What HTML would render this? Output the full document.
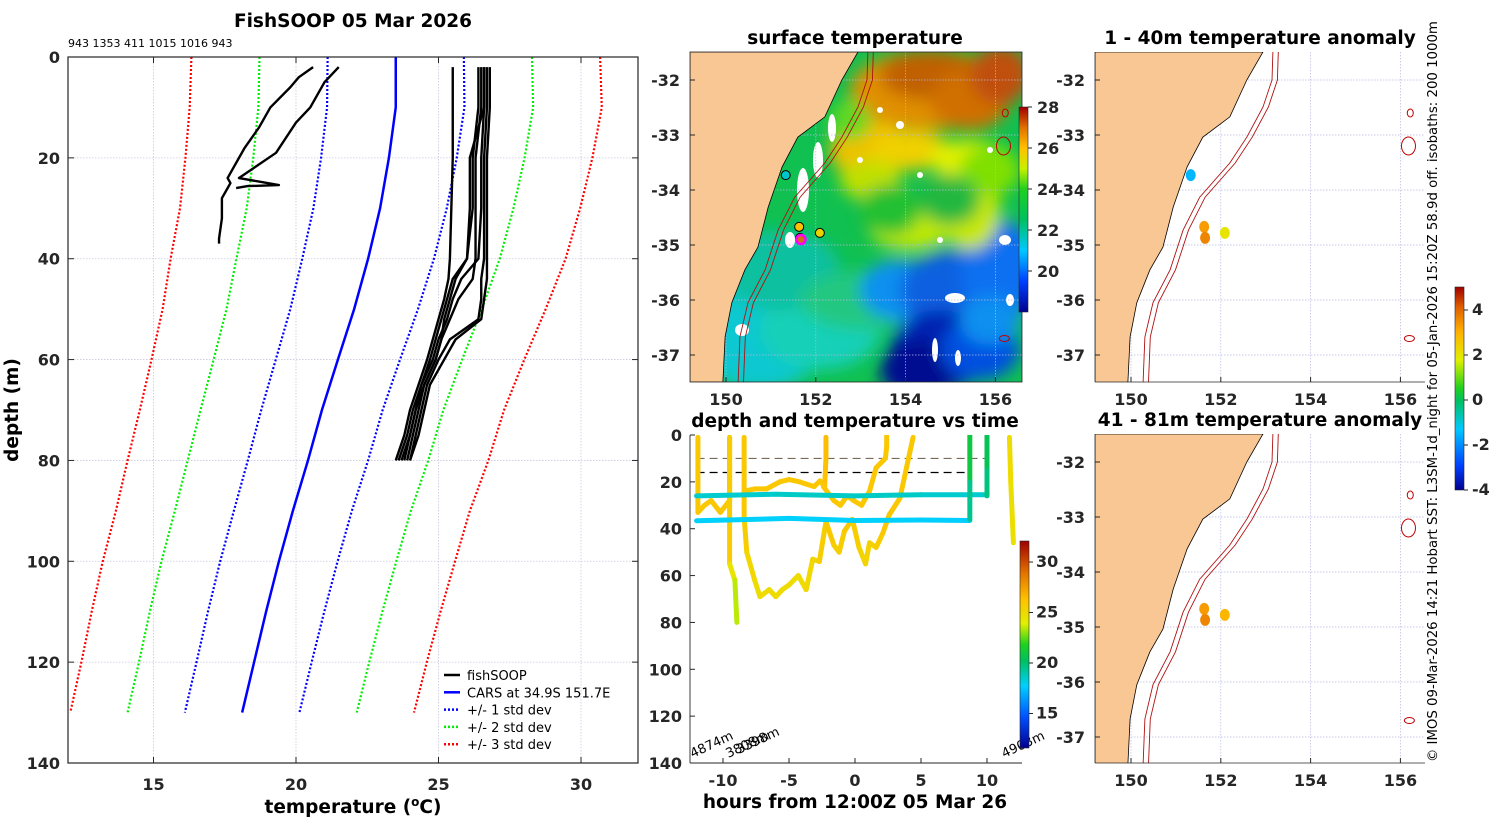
<!DOCTYPE html>
<html><head><meta charset="utf-8">
<style>
html,body{margin:0;padding:0;background:#fff;}
svg{display:block;font-family:"DejaVu Sans","Liberation Sans",sans-serif;}
.tk{font-size:16px;font-weight:bold;fill:#262626;}
.ttl{font-size:18.5px;font-weight:bold;fill:#000;}
.lg{font-size:13px;fill:#000;}
</style></head>
<body>
<svg id="fig" width="1500" height="820" viewBox="0 0 1500 820" xmlns="http://www.w3.org/2000/svg">
<defs>
<filter id="blur8" x="-20%" y="-20%" width="140%" height="140%"><feGaussianBlur stdDeviation="8"/></filter>
<clipPath id="clipSst"><rect x="690" y="52" width="332" height="330"/></clipPath>
<clipPath id="clipA1"><rect x="1095" y="52" width="330" height="330"/></clipPath>
<clipPath id="clipA2"><rect x="1095" y="434" width="330" height="329"/></clipPath>
<clipPath id="clipDt"><rect x="690" y="435" width="332" height="328"/></clipPath>
<linearGradient id="sstV" x1="0" y1="1" x2="0" y2="0">
<stop offset="0" stop-color="#00008f"/><stop offset="0.15" stop-color="#0040ff"/><stop offset="0.3" stop-color="#00c8ff"/><stop offset="0.45" stop-color="#00c060"/><stop offset="0.6" stop-color="#20d020"/><stop offset="0.7" stop-color="#c8f000"/><stop offset="0.8" stop-color="#ffc000"/><stop offset="0.9" stop-color="#e07000"/><stop offset="1" stop-color="#a00000"/>
</linearGradient>
<linearGradient id="dtV" x1="0" y1="1" x2="0" y2="0">
<stop offset="0" stop-color="#00008f"/><stop offset="0.15" stop-color="#0050ff"/><stop offset="0.3" stop-color="#00d0ff"/><stop offset="0.42" stop-color="#00c060"/><stop offset="0.5" stop-color="#20d020"/><stop offset="0.6" stop-color="#e0f000"/><stop offset="0.72" stop-color="#ffc000"/><stop offset="0.85" stop-color="#e07000"/><stop offset="1" stop-color="#a00000"/>
</linearGradient>
<linearGradient id="anV" x1="0" y1="1" x2="0" y2="0">
<stop offset="0" stop-color="#00008f"/><stop offset="0.12" stop-color="#0040ff"/><stop offset="0.3" stop-color="#00c8ff"/><stop offset="0.44" stop-color="#00c060"/><stop offset="0.5" stop-color="#20d020"/><stop offset="0.64" stop-color="#e0f000"/><stop offset="0.78" stop-color="#ffb000"/><stop offset="0.9" stop-color="#e06000"/><stop offset="1" stop-color="#a00000"/>
</linearGradient>
</defs>
<g id="root"></g>
</svg>
<script>
// ---------- Profile panel data ----------
const carsDepths = [0,10,20,30,40,50,60,70,80,90,100,110,120,130];
const carsMean   = [23.5,23.5,23.26,22.95,22.53,22.04,21.47,20.91,20.42,19.89,19.40,18.95,18.53,18.11];
const carsStd    = [2.39,2.41,2.38,2.34,2.31,2.24,2.18,2.13,2.11,2.07,2.06,2.04,2.02,2.01];
const stdMultiples = [1,2,3];
const xTicks = [15,20,25,30];
const yTicks = [0,20,40,60,80,100,120,140];
const coldDepthsA = [2,4,6,10,14,18,22,24,25,26,28,32,36,37];
const coldTempsA  = [20.6,20.1,19.8,19.1,18.7,18.2,17.8,17.6,17.7,17.6,17.4,17.4,17.3,17.3];
const coldDepthsB = [2,5,10,13,19,24,25,25.4,25.6,26];
const coldTempsB  = [21.5,21.0,20.5,20.0,19.3,18.0,19.0,19.4,18.3,17.9];
const warmDepths = [2,10,20,30,40,44,48,52,56,60,65,70,75,80];
const warmTemps1 = [25.5,25.5,25.5,25.45,25.4,25.35,25.2,25.0,24.8,24.6,24.3,24.0,23.8,23.5];
const warmTemps2 = [26.6,26.6,26.5,26.5,26.4,25.8,25.5,25.3,25.0,24.8,24.4,24.2,24.0,23.7];
const warmTemps3 = [26.5,26.5,26.3,26.3,26.3,26.2,25.7,25.4,25.1,24.9,24.5,24.3,24.1,23.9];
const warmTemps4 = [26.7,26.7,26.6,26.6,26.6,26.5,26.5,26.4,25.4,25.0,24.6,24.4,24.2,24.0];
const warmTemps5 = [26.6,26.6,26.1,26.1,26.0,25.6,25.4,25.2,25.1,24.9,24.5,24.2,24.0,23.8];
const warmTemps6 = [26.8,26.8,26.7,26.7,26.7,26.7,26.6,26.5,25.6,25.2,24.7,24.5,24.3,24.0];
const warmTemps7 = [26.4,26.4,26.2,26.2,26.0,25.5,25.3,25.1,24.9,24.7,24.4,24.1,23.9,23.6];
const legendLabels = ["fishSOOP","CARS at 34.9S 151.7E","+/- 1 std dev","+/- 2 std dev","+/- 3 std dev"];
// ---------- Depth/time panel data ----------
const hTicks = [-10,-5,0,5,10];
const dTicks = [0,20,40,60,80,100,120,140];
const tow1Hours = [-11.9,-11.9,-11.9,-11.4,-10.9,-10.2,-9.5,-9.5,-9.5,-9.1,-8.95];
const tow1Depths= [1,15,33,30,28,33,28,1,55,62,80];
const tow1Temps = [26,26,26,26,26,26,26,26.5,25,24,23];
const tow2Hours = [-8.4,-8.4,-8.2,-7.6,-7.2,-6.5,-6,-5.5,-5,-4.3,-3.7,-3.2,-2.7,-2.2,-1.6,-1.2,-0.8,-0.2,0.3,0.8,1.1,1.6,2.1,2.6,3.4,3.9,4.4];
const tow2Depths= [1,35,50,62,69,66,69,66,64,60,66,53,54,37,47,50,41,36,48,55,46,48,42,34,27,14,1];
const tow2Temps = [26,26,25.5,25,25,25,25,25,25,25,25,25.3,25.3,26,25.8,25.5,26,26,25.5,25.3,25.5,25.5,26,26,26,26,26];
const tow3Hours = [-8.4,-7.6,-6.7,-5.7,-5.0,-4.2,-3.66,-3.1,-2.65,-2.3,-2.2,-2.2];
const tow3Depths= [24,23,23,20,19,20,21,22,19.6,22,10,1];
const tow3Temps = [26,26,26,26,26,26,26,26,26,26,26.5,26.5];
const tow4Hours = [-2.4,-1.6,-1.1,-0.6,-0.1,0.5,1.1,1.6,2.3,2.4,2.4];
const tow4Depths= [22,28,30,26,28,30,24,14,10,5,0];
const tow4Temps = [26,26,26,26,26,26,26,26,26,26,26];
const tow5Hours = [-12,-6,0,5,10];
const tow5Depths= [26,25.3,26,25.5,25.5];
const tow5Temps = [18.5,18.5,18.8,18.5,18.5];
const tow6Hours = [-12,-5,0,5,8.7];
const tow6Depths= [36.6,35.6,36.5,36.3,36.5];
const tow6Temps = [17.8,17.8,17.8,17.8,17.6];
const tow7Hours = [8.7,8.7,8.7];
const tow7Depths= [0,20,36];
const tow7Temps = [21,21,18];
const tow8Hours = [10,10,10];
const tow8Depths= [0,15,26];
const tow8Temps = [20.5,20.5,19];
const tow9Hours = [11.7,11.8,12.0];
const tow9Depths= [1,20,46];
const tow9Temps = [25,25,24.5];
const mldDepths = [10,16];
const bottomLabels = ["4874m","3808m","3398m","4903m"];
const bottomLabelHours = [-12.3,-9.6,-8.8,11.3];
// ---------- Map data ----------
const lonTicks = [150,152,154,156];
const latTicks = [-32,-33,-34,-35,-36,-37];
const coastLon = [152.94,152.58,152.20,151.60,151.25,150.94,150.71,150.42,150.13,149.98,149.93];
const coastLat = [-31.49,-32.0,-32.67,-33.04,-33.58,-34.31,-35.04,-35.45,-36.05,-36.67,-37.49];
const iso200Lon = [153.16,153.14,152.94,152.58,152.20,151.53,151.16,150.87,150.49,150.31,150.27];
const iso200Lat = [-31.49,-32.0,-32.49,-33.04,-33.51,-34.13,-34.73,-35.45,-36.05,-36.67,-37.49];
const stnLon = [151.33,151.63,151.65,152.09];
const stnLat = [-33.73,-34.67,-34.87,-34.78];
const anomShallow = [-1.5,3.3,3.6,2.0];
const anomDeep = [null,3.3,3.6,2.9];
const sstStn = [21.5,26,26.2,25.6];

const NS="http://www.w3.org/2000/svg";
const root=document.getElementById('root');
function mk(tag,attrs,parent){const e=document.createElementNS(NS,tag);for(const k in attrs)e.setAttribute(k,attrs[k]);(parent||root).appendChild(e);return e;}
function txt(s,x,y,cls,anchor,parent,extra){const e=mk('text',Object.assign({x:x,y:y,class:cls,'text-anchor':anchor||'middle'},extra||{}),parent);e.textContent=s;return e;}
function hex(c){return [parseInt(c.slice(1,3),16),parseInt(c.slice(3,5),16),parseInt(c.slice(5,7),16)];}
function cmap(stops,v){v=Math.max(0,Math.min(1,v));for(let i=1;i<stops.length;i++){if(v<=stops[i][0]){const a=hex(stops[i-1][1]),b=hex(stops[i][1]);const f=(v-stops[i-1][0])/((stops[i][0]-stops[i-1][0])||1);return 'rgb('+a.map((x,k)=>Math.round(x+(b[k]-x)*f)).join(',')+')';}}return stops[stops.length-1][1];}
const sstStops=[[0,'#00008f'],[0.15,'#0040ff'],[0.3,'#00c8ff'],[0.45,'#00c060'],[0.6,'#20d020'],[0.7,'#c8f000'],[0.8,'#ffc000'],[0.9,'#e07000'],[1,'#a00000']];
const dtStops=[[0,'#00008f'],[0.15,'#0050ff'],[0.3,'#00d0ff'],[0.42,'#00c060'],[0.5,'#20d020'],[0.6,'#e0f000'],[0.72,'#ffc000'],[0.85,'#e07000'],[1,'#a00000']];
const anStops=[[0,'#00008f'],[0.12,'#0040ff'],[0.3,'#00c8ff'],[0.44,'#00c060'],[0.5,'#20d020'],[0.64,'#e0f000'],[0.78,'#ffb000'],[0.9,'#e06000'],[1,'#a00000']];

// ============ Profile panel ============
const P={x0:68,x1:638,y0:57,y1:763,tmin:12,tmax:32,dmax:140};
const px=t=>P.x0+(t-P.tmin)/(P.tmax-P.tmin)*(P.x1-P.x0);
const py=d=>P.y0+d/P.dmax*(P.y1-P.y0);
const gP=mk('g',{});


xTicks.forEach(t=>{const l=mk('line',{x1:px(t),x2:px(t),y1:P.y0,y2:P.y1,stroke:'#c8c8e0','stroke-width':0.8,'stroke-dasharray':'1.5 1.5'},gP);});
yTicks.slice(1,-1).forEach(d=>{const l=mk('line',{x1:P.x0,x2:P.x1,y1:py(d),y2:py(d),stroke:'#c8c8e0','stroke-width':0.8,'stroke-dasharray':'1.5 1.5'},gP);});
const colorsStd=['#0000ff','#00ee00','#ff0000'];
stdMultiples.forEach((k,i)=>{[-1,1].forEach(s=>{
  const pts=carsDepths.map((d,j)=>px(carsMean[j]+s*k*carsStd[j])+','+py(d)).join(' ');
  const l=mk('polyline',{points:pts,fill:'none',stroke:colorsStd[i],'stroke-width':2.2,'stroke-dasharray':'2 2'},gP);
  
  
});});
{const pts=carsDepths.map((d,j)=>px(carsMean[j])+','+py(d)).join(' ');
 const l=mk('polyline',{points:pts,fill:'none',stroke:'#0000ff','stroke-width':2.5},gP);
 
 }
function profile(depths,temps,name){const pts=depths.map((d,j)=>px(temps[j])+','+py(d)).join(' ');
 const l=mk('polyline',{points:pts,fill:'none',stroke:'#000','stroke-width':2.4,'stroke-linejoin':'round'},gP);
 
 }
profile(coldDepthsA,coldTempsA,'fishsoop-profile-cold-a');
profile(coldDepthsB,coldTempsB,'fishsoop-profile-cold-b');
[warmTemps1,warmTemps2,warmTemps3,warmTemps4,warmTemps5,warmTemps6,warmTemps7].forEach((w,i)=>profile(warmDepths,w,'fishsoop-profile-warm-'+(i+1)));
{const r=mk('rect',{x:P.x0,y:P.y0,width:P.x1-P.x0,height:P.y1-P.y0,fill:'none',stroke:'#262626','stroke-width':1.2},gP);
 
 }
xTicks.forEach(t=>{mk('line',{x1:px(t),x2:px(t),y1:P.y1,y2:P.y1-6,stroke:'#262626'},gP);mk('line',{x1:px(t),x2:px(t),y1:P.y0,y2:P.y0+6,stroke:'#262626'},gP);const e=txt(String(t),px(t),790,'tk','middle',gP);});
yTicks.forEach(d=>{mk('line',{x1:P.x0,x2:P.x0+6,y1:py(d),y2:py(d),stroke:'#262626'},gP);mk('line',{x1:P.x1,x2:P.x1-6,y1:py(d),y2:py(d),stroke:'#262626'},gP);const e=txt(String(d),P.x0-8,py(d)+6,'tk','end',gP);});
{const e=txt('FishSOOP 05 Mar 2026',353,27,'ttl','middle',gP);}
{const e=txt('943 1353 411 1015 1016 943',68,47,'','start',gP,{'font-size':'11px'});}
{const e=mk('text',{x:353,y:813,class:'ttl','text-anchor':'middle'},gP);e.innerHTML='temperature (<tspan dy="-7" font-size="12">o</tspan><tspan dy="7">C)</tspan>';}
{const e=txt('depth (m)',18,410,'ttl','middle',gP,{transform:'rotate(-90 18 410)'});}
const legStyles=[['#000','none'],['#0000ff','none'],['#0000ff','2 2'],['#00ee00','2 2'],['#ff0000','2 2']];
legendLabels.forEach((s,i)=>{const y=675+i*17.3;const g=mk('g',{},gP);
 mk('line',{x1:444,x2:460,y1:y,y2:y,stroke:legStyles[i][0],'stroke-width':2.5,'stroke-dasharray':legStyles[i][1]},g);txt(s,467,y+5,'lg','start',g);});

// ============ Map helpers ============
function mapFn(x150,y32){return {x:lon=>x150+(lon-150)*44.9,y:lat=>y32+(-32-lat)*55};}
function drawMapFrame(M,g,x0,y0,w,h){
  lonTicks.forEach(l=>mk('line',{x1:M.x(l),x2:M.x(l),y1:y0,y2:y0+h,stroke:'#b8b8e0','stroke-width':0.7,'stroke-dasharray':'1.5 1.5'},g));
  latTicks.forEach(l=>mk('line',{x1:x0,x2:x0+w,y1:M.y(l),y2:M.y(l),stroke:'#b8b8e0','stroke-width':0.7,'stroke-dasharray':'1.5 1.5'},g));
}
function coastPath(M,x0,y1){let d='M'+x0+','+(M.y(-31.49))+' ';coastLon.forEach((l,i)=>{d+='L'+M.x(l).toFixed(1)+','+M.y(coastLat[i]).toFixed(1)+' ';});d+='L'+x0+','+y1+' Z';return d;}
function isoLine(M,off){return iso200Lon.map((l,i)=>M.x(l+off).toFixed(1)+','+M.y(iso200Lat[i]).toFixed(1)).join(' ');}
function seamounts(M,g){[[156.22,-32.6,3,4],[156.18,-33.2,7,9],[156.2,-36.7,5,3]].forEach(s=>mk('ellipse',{cx:M.x(s[0]),cy:M.y(s[1]),rx:s[2],ry:s[3],fill:'none',stroke:'#c00000','stroke-width':1},g));}
function mapTicks(M,g,x0,y0,w,h){
  lonTicks.forEach(l=>{mk('line',{x1:M.x(l),x2:M.x(l),y1:y0+h,y2:y0+h-5,stroke:'#262626'},g);const e=txt(String(l),M.x(l),y0+h+23,'tk','middle',g);});
  latTicks.forEach(l=>{mk('line',{x1:x0,x2:x0+5,y1:M.y(l),y2:M.y(l),stroke:'#262626'},g);const e=txt(String(l),x0-10,M.y(l)+6,'tk','end',g);});
}

// ============ SST map ============
{const g=mk('g',{});
 const M=mapFn(726,80);
 const cg=mk('g',{'clip-path':'url(#clipSst)'},g);
 mk('rect',{x:690,y:52,width:332,height:330,fill:'#10c050'},cg);
 const bl=mk('g',{filter:'url(#blur8)'},cg);
 const blobs=[
  [760,330,70,60,'#10c8d0'],[820,330,60,40,'#18d0b8'],[780,270,60,40,'#10c0a0'],[870,300,70,30,'#20c880'],
  [900,290,40,30,'#1090f0'],[960,290,60,40,'#1060e0'],[1000,270,40,50,'#1070f0'],[940,350,50,40,'#0020b0'],[920,370,40,30,'#001090'],
  [980,350,40,30,'#0050e0'],[990,320,30,25,'#1090f0'],
  [930,90,80,40,'#e09000'],[930,75,50,25,'#c06000'],[970,100,40,30,'#d07000'],[1000,75,30,30,'#c05010'],
  [870,150,40,30,'#f0c000'],[910,150,40,20,'#f0d000'],[870,180,30,20,'#c0e000'],[970,160,40,20,'#e0f000'],
  [910,230,40,20,'#c0e800'],[970,210,30,40,'#c8e800'],[990,170,30,25,'#80e000'],
  [890,210,30,25,'#20c030'],[950,200,30,25,'#20b840'],[850,120,20,20,'#60d820']];
 blobs.forEach(b=>mk('ellipse',{cx:b[0],cy:b[1],rx:b[2],ry:b[3],fill:b[4]},bl));
 // cloud gaps (small white patches)
 [[803,190,6,22],[818,160,5,18],[832,128,4,14],[790,240,5,8],[900,125,4,4],[955,298,10,5],[1005,240,6,5],[935,350,3,12],[958,358,3,8],[742,330,7,6],[940,240,3,3],[990,150,3,3],[1010,300,4,6],[880,110,3,3],[860,160,3,3],[920,175,3,3]].forEach(b=>mk('ellipse',{cx:b[0],cy:b[1],rx:b[2],ry:b[3],fill:'#ffffff'},cg));
 drawMapFrame(M,cg,690,52,332,330);
 mk('path',{d:coastPath(M,690,382),fill:'#f9c794',stroke:'#000','stroke-width':0.8},cg);
 mk('polyline',{points:isoLine(M,0),fill:'none',stroke:'#b01010','stroke-width':0.9},cg);
 mk('polyline',{points:isoLine(M,0.12),fill:'none',stroke:'#b01010','stroke-width':0.9},cg);
 seamounts(M,cg);
 stnLon.forEach((l,i)=>{const c=mk('circle',{cx:M.x(l),cy:M.y(stnLat[i]),r:4.5,fill:cmap(sstStops,(sstStn[i]-18)/10),stroke:'#000','stroke-width':1},cg);});
 mk('circle',{cx:M.x(151.67),cy:M.y(-34.9),r:4.5,fill:'#d07010',stroke:'#ff00ff','stroke-width':2.5},cg);
 mk('rect',{x:690,y:52,width:332,height:330,fill:'none',stroke:'#262626','stroke-width':0.8},g);
 mapTicks(M,g,690,52,332,330);
 const t=txt('surface temperature',855,44,'ttl','middle',g);
 const cb=mk('rect',{x:1019,y:107,width:9,height:205,fill:'url(#sstV)',stroke:'#262626','stroke-width':0.6},g);
 [28,26,24,22,20].forEach(v=>{const y=107+(28-v)*20.5;mk('line',{x1:1028,x2:1032,y1:y,y2:y,stroke:'#262626'},g);const e=txt(String(v),1037,y+6,'tk','start',g,{'font-size':'14px'});});
}

// ============ Anomaly maps ============
function anomMap(y0,y32,vals,title,name){
 const g=mk('g',{});
 const M=mapFn(1131,y32);const h=(y0===52)?330:329;
 const cg=mk('g',{'clip-path':'url('+(y0===52?'#clipA1':'#clipA2')+')'},g);
 mk('rect',{x:1095,y:y0,width:330,height:h,fill:'#fff'},cg);
 drawMapFrame(M,cg,1095,y0,330,h);
 mk('path',{d:coastPath(M,1095,y0+h+5),fill:'#f9c794',stroke:'#000','stroke-width':0.8},cg);
 mk('polyline',{points:isoLine(M,0),fill:'none',stroke:'#b01010','stroke-width':0.9},cg);
 mk('polyline',{points:isoLine(M,0.12),fill:'none',stroke:'#b01010','stroke-width':0.9},cg);
 seamounts(M,cg);
 vals.forEach((v,i)=>{if(v===null)return;const c=mk('ellipse',{cx:M.x(stnLon[i]),cy:M.y(stnLat[i]),rx:5,ry:6,fill:cmap(anStops,(v+4)/9)},cg);});
 mk('line',{x1:1095,x2:1095,y1:y0,y2:y0+h,stroke:'#262626','stroke-width':0.8},g);
 mk('line',{x1:1095,x2:1425,y1:y0+h,y2:y0+h,stroke:'#262626','stroke-width':0.8},g);
 mapTicks(M,g,1095,y0,330,h);
 const t=txt(title,1260,y0-8,'ttl','middle',g);
}
anomMap(52,80,anomShallow,'1 - 40m temperature anomaly','anomaly-map-shallow');
anomMap(434,462,anomDeep,'41 - 81m temperature anomaly','anomaly-map-deep');
{const cb=mk('rect',{x:1455,y:287,width:9,height:203,fill:'url(#anV)',stroke:'#262626','stroke-width':0.6});
 [4,2,0,-2,-4].forEach(v=>{const y=400-v*22.5;mk('line',{x1:1464,x2:1468,y1:y,y2:y,stroke:'#262626'});const e=txt(String(v),1472,y+5,'tk','start',root,{'font-size':'13px'});});}
{const e=txt('© IMOS 09-Mar-2026 14:21 Hobart SST: L3SM-1d_night for 05-Jan-2026 15:20Z 58.9d off. isobaths: 200  1000m',1437,762,'','start',root,{'font-size':'13.3px',transform:'rotate(-90 1437 762)',fill:'#000'});}

// ============ Depth vs time ============
{const D={x0:690,x1:1022,y0:435,y1:763};
 const hx=h=>855+h*13.2;const dy=d=>D.y0+d/140*(D.y1-D.y0);
 const tc=t=>cmap(dtStops,(t-11.6)/(32.1-11.6));
 const g=mk('g',{});
 const cg=mk('g',{'clip-path':'url(#clipDt)'},g);
 mk('line',{x1:hx(-12),x2:hx(10),y1:dy(mldDepths[0]),y2:dy(mldDepths[0]),stroke:'#7a6a5a','stroke-width':1.2,'stroke-dasharray':'8 5'},cg);
 mk('line',{x1:hx(-12),x2:hx(8.7),y1:dy(mldDepths[1]),y2:dy(mldDepths[1]),stroke:'#000','stroke-width':1.2,'stroke-dasharray':'8 5'},cg);
 const tows=[[tow1Hours,tow1Depths,tow1Temps],[tow2Hours,tow2Depths,tow2Temps],[tow3Hours,tow3Depths,tow3Temps],[tow4Hours,tow4Depths,tow4Temps],[tow5Hours,tow5Depths,tow5Temps],[tow6Hours,tow6Depths,tow6Temps],[tow7Hours,tow7Depths,tow7Temps],[tow8Hours,tow8Depths,tow8Temps],[tow9Hours,tow9Depths,tow9Temps]];
 tows.forEach((tw,k)=>{const tg=mk('g',{},cg);
  for(let i=1;i<tw[0].length;i++){mk('line',{x1:hx(tw[0][i-1]),y1:dy(tw[1][i-1]),x2:hx(tw[0][i]),y2:dy(tw[1][i]),stroke:tc((tw[2][i-1]+tw[2][i])/2),'stroke-width':5,'stroke-linecap':'round'},tg);}});
 mk('line',{x1:D.x0,x2:D.x0,y1:D.y0,y2:D.y1,stroke:'#262626','stroke-width':0.9},g);
 mk('line',{x1:D.x0,x2:D.x1,y1:D.y1,y2:D.y1,stroke:'#262626','stroke-width':0.9},g);
 hTicks.forEach(h=>{mk('line',{x1:hx(h),x2:hx(h),y1:D.y1,y2:D.y1-5,stroke:'#262626'},g);const e=txt(String(h),hx(h),786,'tk','middle',g);});
 dTicks.forEach(d=>{mk('line',{x1:D.x0,x2:D.x0+5,y1:dy(d),y2:dy(d),stroke:'#262626'},g);const e=txt(String(d),D.x0-8,dy(d)+6,'tk','end',g);});
 bottomLabels.forEach((s,i)=>{const x=hx(bottomLabelHours[i]);const y=758-(i===2?4:0);const e=txt(s,x,y,'','start',g,{'font-size':'13px',transform:'rotate(-25 '+x+' '+y+')',fill:'#000'});});
 {const e=txt('depth and temperature vs time',855,427,'ttl','middle',g);}
 {const e=txt('hours from 12:00Z 05 Mar 26',855,808,'ttl','middle',g);}
 const cb=mk('rect',{x:1020,y:541,width:9,height:207,fill:'url(#dtV)',stroke:'#262626','stroke-width':0.6},g);
 [30,25,20,15].forEach(v=>{const y=562+(30-v)*10.1;mk('line',{x1:1029,x2:1033,y1:y,y2:y,stroke:'#262626'},g);const e=txt(String(v),1036,y+5,'tk','start',g,{'font-size':'14px'});});
}
</script>
</body></html>
